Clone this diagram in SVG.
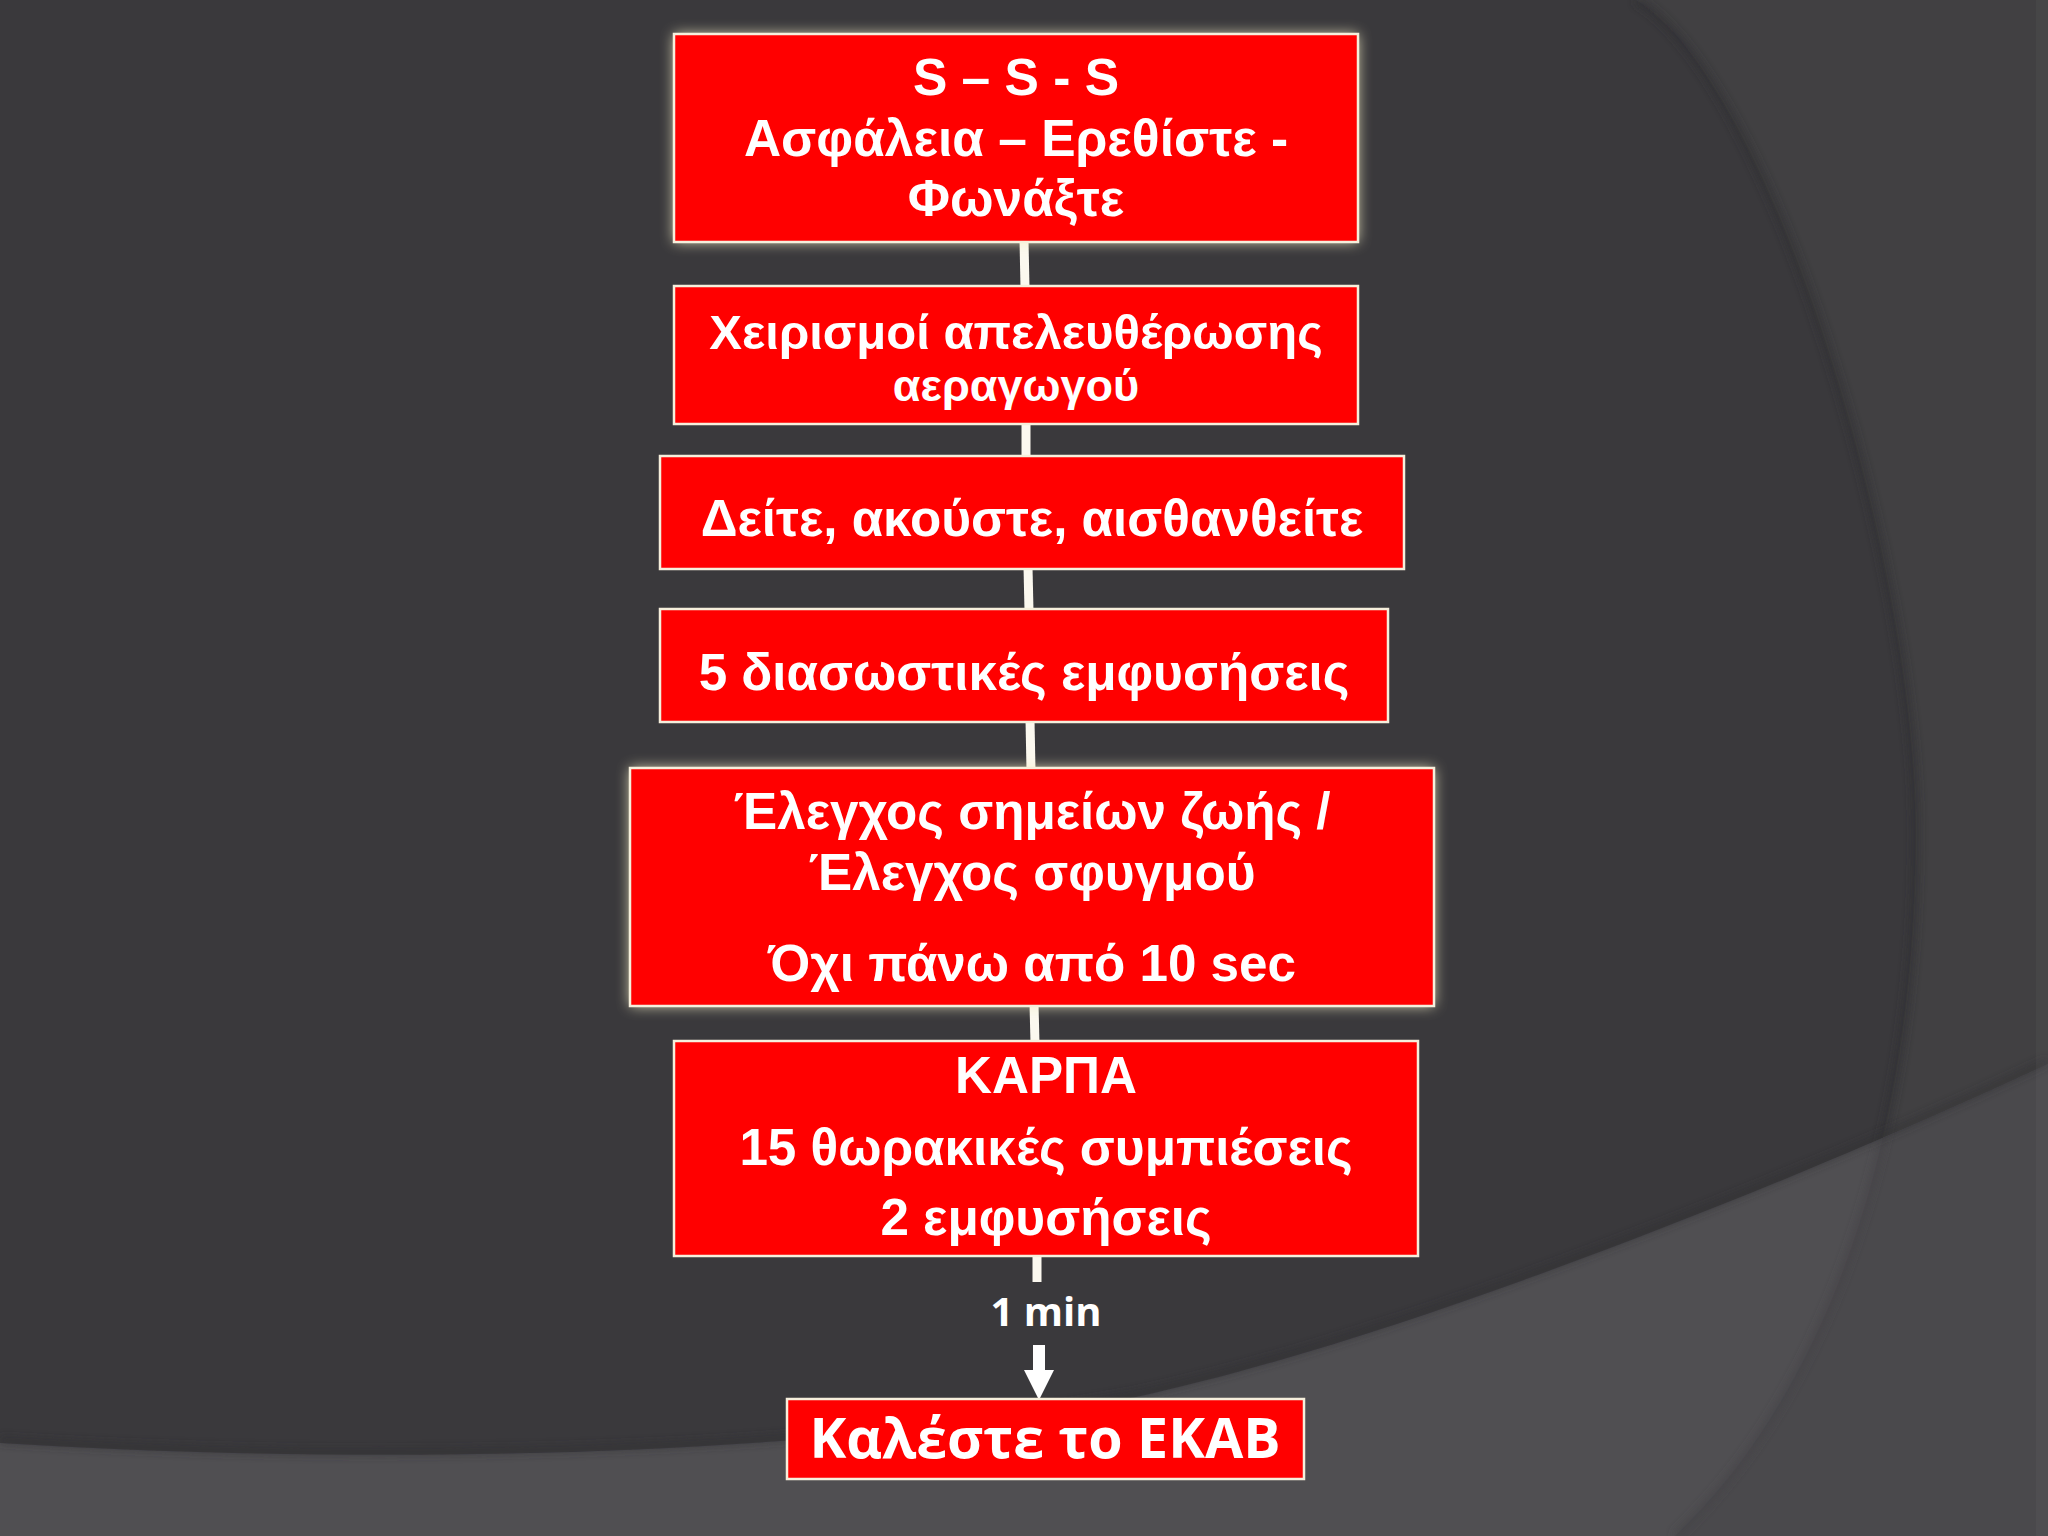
<svg xmlns="http://www.w3.org/2000/svg" width="2048" height="1536" viewBox="0 0 2048 1536">
<defs>
<style>
.box{fill:#ff0000;stroke:#f6efdc;stroke-width:2.5}
.t{font-family:"Liberation Sans",Arial,sans-serif;font-weight:bold;fill:#ffffff;text-anchor:middle}
.o{font-family:"Open Sans","DejaVu Sans",sans-serif;font-weight:bold;fill:#ffffff;text-anchor:middle}
.conn{stroke:#fbf8ef;stroke-width:9;fill:none}
</style>
<filter id="glow" x="-10%" y="-20%" width="120%" height="140%">
<feGaussianBlur stdDeviation="7"/>
</filter>
<filter id="soft" x="-5%" y="-5%" width="110%" height="110%">
<feGaussianBlur stdDeviation="4"/>
</filter>
<clipPath id="band"><path d="M0,1443 C350,1465 800,1460 1136,1397 C1400,1340 1800,1180 2048,1064 L2048,1536 L0,1536 Z"/></clipPath>
<marker id="ah" markerUnits="userSpaceOnUse" markerWidth="36" markerHeight="30" refX="0" refY="15" orient="auto">
<path d="M0,0 L30,15 L0,30 Z" fill="#ffffff"/>
</marker>
</defs>

<g id="background">
<rect x="0" y="0" width="2048" height="1536" fill="#3a393c"/>
<path d="M1636,0 C1770,80 1916,560 1916,833 C1916,1130 1830,1390 1675,1536 L2048,1536 L2048,0 Z" fill="#414042"/>
<path d="M1636,0 C1770,80 1916,560 1916,833 C1916,1130 1830,1390 1675,1536" fill="none" stroke="#2f2e31" stroke-width="6" filter="url(#soft)" opacity="0.8"/>
<g clip-path="url(#band)">
<rect x="0" y="1000" width="2048" height="536" fill="#504f52"/>
<path d="M1636,0 C1770,80 1916,560 1916,833 C1916,1130 1830,1390 1675,1536 L2048,1536 L2048,0 Z" fill="#4a494c"/>
<path d="M1636,0 C1770,80 1916,560 1916,833 C1916,1130 1830,1390 1675,1536" fill="none" stroke="#444346" stroke-width="5" filter="url(#soft)"/>
</g>
<path d="M0,1443 C350,1465 800,1460 1136,1397 C1400,1340 1800,1180 2048,1064" fill="none" stroke="#2e2d30" stroke-width="5" filter="url(#soft)" opacity="0.7" transform="translate(0,-3)"/>
<rect x="2036" y="0" width="12" height="1536" fill="#ffffff" opacity="0.03"/>
</g>

<g id="connectors">
<line class="conn" x1="1024" y1="240" x2="1025" y2="288"/>
<line class="conn" x1="1026" y1="422" x2="1026" y2="458"/>
<line class="conn" x1="1028" y1="567" x2="1029" y2="611"/>
<line class="conn" x1="1030" y1="720" x2="1031" y2="770"/>
<line class="conn" x1="1034" y1="1004" x2="1035" y2="1043"/>
<line class="conn" x1="1037" y1="1254" x2="1037" y2="1282"/>
<line x1="1039" y1="1345" x2="1039" y2="1370" stroke="#ffffff" stroke-width="12" marker-end="url(#ah)"/>
</g>

<g id="node1">
<rect x="674" y="34" width="684" height="208" fill="#f3ecc4" filter="url(#glow)" opacity="0.85"/>
<rect class="box" x="674" y="34" width="684" height="208"/>
<text class="t" font-size="51.5" x="1016" y="95">S – S - S</text>
<text class="t" font-size="51.5" x="1016" y="156">Ασφάλεια – Ερεθίστε -</text>
<text class="t" font-size="51.5" x="1016" y="216">Φωνάξτε</text>
</g>

<g id="node2">
<rect class="box" x="674" y="286" width="684" height="138"/>
<text class="t" font-size="49" x="1016" y="349">Χειρισμοί απελευθέρωσης</text>
<text class="t" font-size="45" x="1016" y="401">αεραγωγού</text>
</g>

<g id="node3">
<rect class="box" x="660" y="456" width="744" height="113"/>
<text class="t" font-size="51.2" x="1032" y="536">Δείτε, ακούστε, αισθανθείτε</text>
</g>

<g id="node4">
<rect class="box" x="660" y="609" width="728" height="113"/>
<text class="t" font-size="51.2" x="1024" y="690">5 διασωστικές εμφυσήσεις</text>
</g>

<g id="node5">
<rect x="630" y="768" width="804" height="238" fill="#f3ecc4" filter="url(#glow)" opacity="0.85"/>
<rect class="box" x="630" y="768" width="804" height="238"/>
<text class="t" font-size="51.2" x="1032" y="829">Έλεγχος σημείων ζωής /</text>
<text class="t" font-size="51.2" x="1032" y="890">Έλεγχος σφυγμού</text>
<text class="t" font-size="51.2" x="1032" y="981">Όχι πάνω από 10 sec</text>
</g>

<g id="node6">
<rect class="box" x="674" y="1041" width="744" height="215"/>
<text class="t" font-size="51.2" x="1046" y="1093">ΚΑΡΠΑ</text>
<text class="t" font-size="51.2" x="1046" y="1165">15 θωρακικές συμπιέσεις</text>
<text class="t" font-size="51.2" x="1046" y="1235">2 εμφυσήσεις</text>
</g>

<g id="label-1min">
<text class="o" font-size="40" x="1046" y="1326">1 min</text>
</g>

<g id="node7">
<rect class="box" x="787" y="1399" width="517" height="80"/>
<text class="o" font-size="55.5" x="1045" y="1458">Καλέστε το ΕΚΑΒ</text>
</g>
</svg>
